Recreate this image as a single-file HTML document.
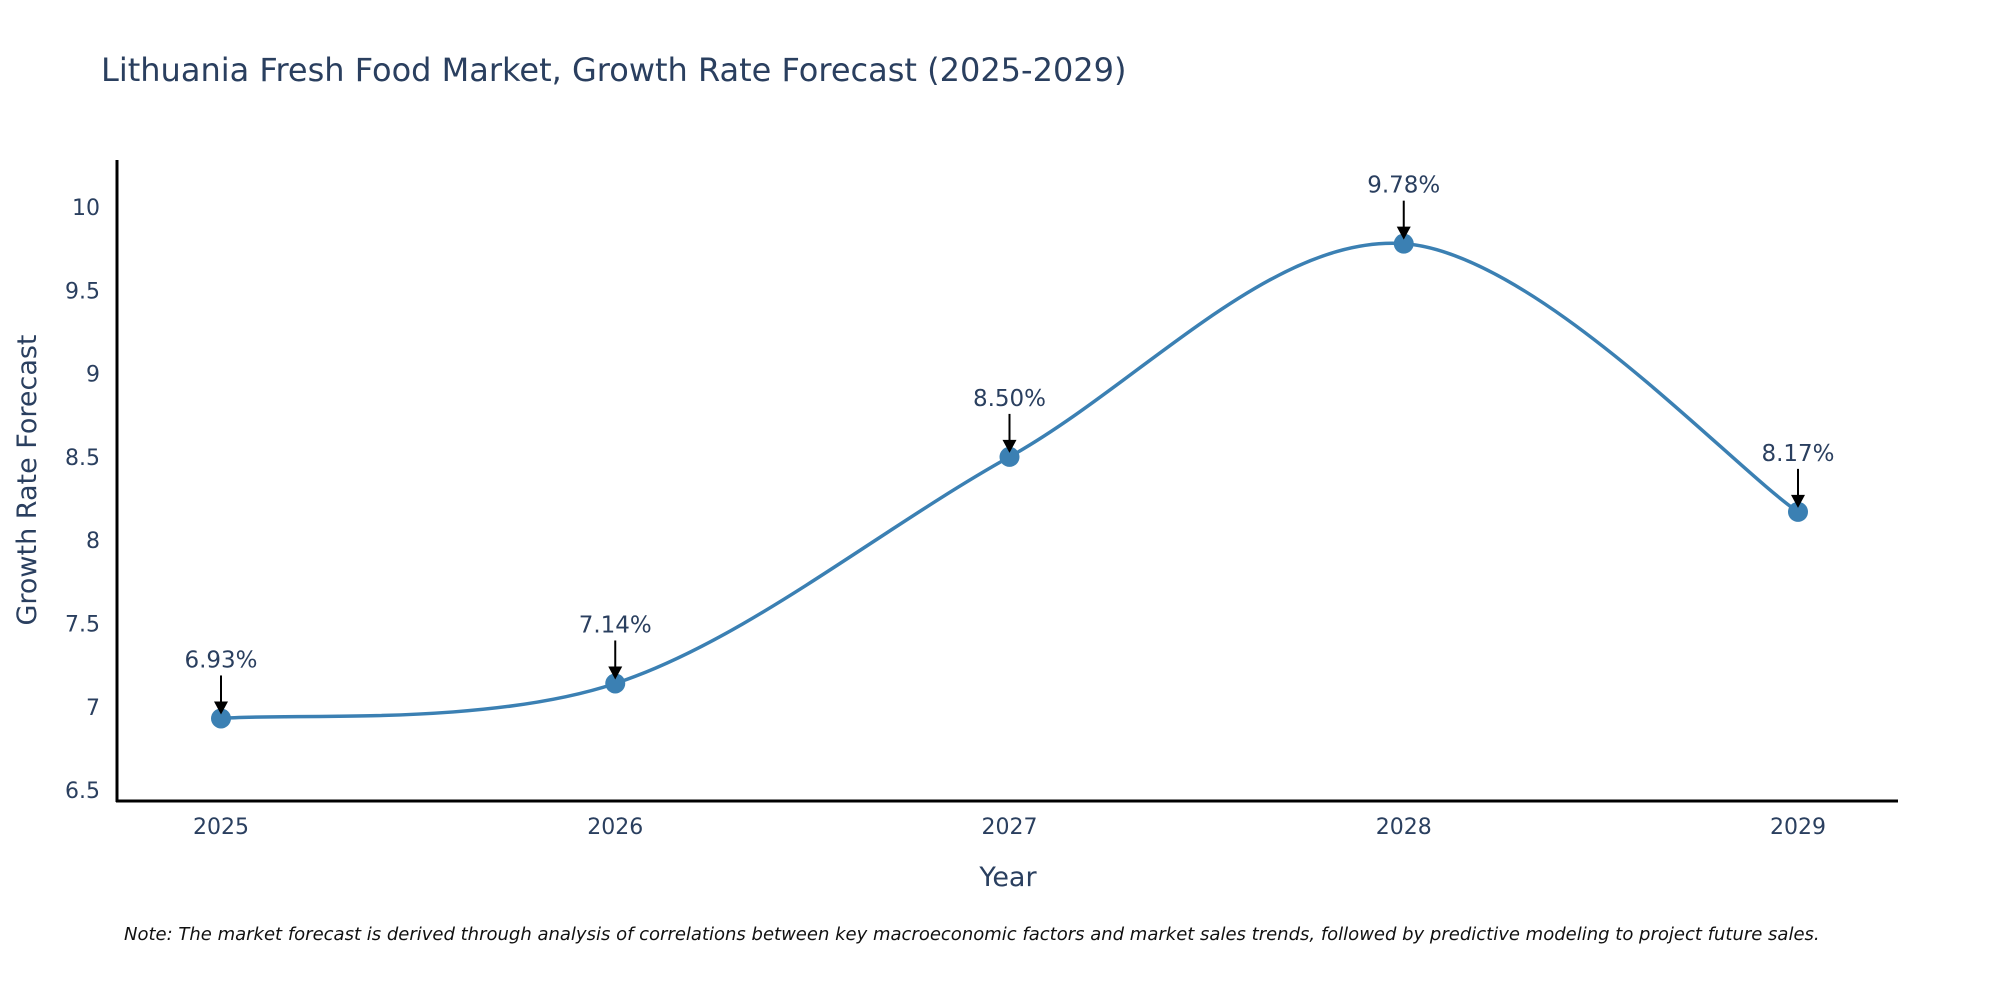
<!DOCTYPE html>
<html><head><meta charset="utf-8"><style>
body{margin:0;background:#fff;}
svg text{font-family:"DejaVu Sans",Verdana,sans-serif;fill:#2a3f5f;}
</style></head><body>
<svg width="2000" height="1000" xmlns="http://www.w3.org/2000/svg">
<text x="101" y="81" font-size="32">Lithuania Fresh Food Market, Growth Rate Forecast (2025-2029)</text>
<g id="yticks"></g><g id="xticks"></g>
<line x1="117" y1="160" x2="117" y2="802" stroke="#000" stroke-width="3"/>
<line x1="116" y1="801" x2="1898" y2="801" stroke="#000" stroke-width="3"/>
<path id="line" fill="none" stroke="#3b80b3" stroke-width="3.5"/>
<g id="marks"></g>
<text x="0" y="0" font-size="27" text-anchor="middle" transform="translate(36,480) rotate(-90)">Growth Rate Forecast</text>
<text x="1008" y="886" font-size="27" text-anchor="middle">Year</text>
<text x="124" y="940" font-size="18" font-style="italic" style="fill:#111">Note: The market forecast is derived through analysis of correlations between key macroeconomic factors and market sales trends, followed by predictive modeling to project future sales.</text>
</svg>
<script>
const years=[2025,2026,2027,2028,2029];
const values=[6.93,7.14,8.50,9.78,8.17];
const yTicks=[6.5,7,7.5,8,8.5,9,9.5,10];
const yTickLabels=["6.5","7","7.5","8","8.5","9","9.5","10"];
const NS="http://www.w3.org/2000/svg";
function xs(yr){return 221+(yr-2025)*(1798-221)/4;}
function ys(v){return 207+(10-v)*166.6;}
function mk(t,a,p){const e=document.createElementNS(NS,t);for(const k in a)e.setAttribute(k,a[k]);p.appendChild(e);return e;}
const yt=document.getElementById('yticks');
yTicks.forEach((v,i)=>{const t=mk('text',{x:100,y:ys(v)+8,'font-size':22,'text-anchor':'end'},yt);t.textContent=yTickLabels[i];

});
const xt=document.getElementById('xticks');
years.forEach(y=>{const t=mk('text',{x:xs(y),y:834,'font-size':22,'text-anchor':'middle'},xt);t.textContent=String(y);

});
const P=years.map((y,i)=>[xs(y),ys(values[i])]);
let d='M'+P[0][0]+','+P[0][1];
for(let i=0;i<P.length-1;i++){const p0=P[Math.max(i-1,0)],p1=P[i],p2=P[i+1],p3=P[Math.min(i+2,P.length-1)];
const c1=[p1[0]+(p2[0]-p0[0])/6,p1[1]+(p2[1]-p0[1])/6],c2=[p2[0]-(p3[0]-p1[0])/6,p2[1]-(p3[1]-p1[1])/6];
d+=' C'+c1+' '+c2+' '+p2;}
document.getElementById('line').setAttribute('d',d);
const g=document.getElementById('marks');
P.forEach((p,i)=>{
const c=mk('circle',{cx:p[0],cy:p[1],r:10,fill:'#3b80b3'},g);


const l=mk('line',{x1:p[0],y1:p[1]-43,x2:p[0],y2:p[1]-14,stroke:'#000','stroke-width':2},g);


const a=mk('path',{d:`M${p[0]-7},${p[1]-17} L${p[0]+7},${p[1]-17} L${p[0]},${p[1]-4} Z`,fill:'#000'},g);


const t=mk('text',{x:p[0],y:p[1]-51,'font-size':23,'text-anchor':'middle'},g);
t.textContent=values[i].toFixed(2)+'%';

});
</script>
</body></html>
